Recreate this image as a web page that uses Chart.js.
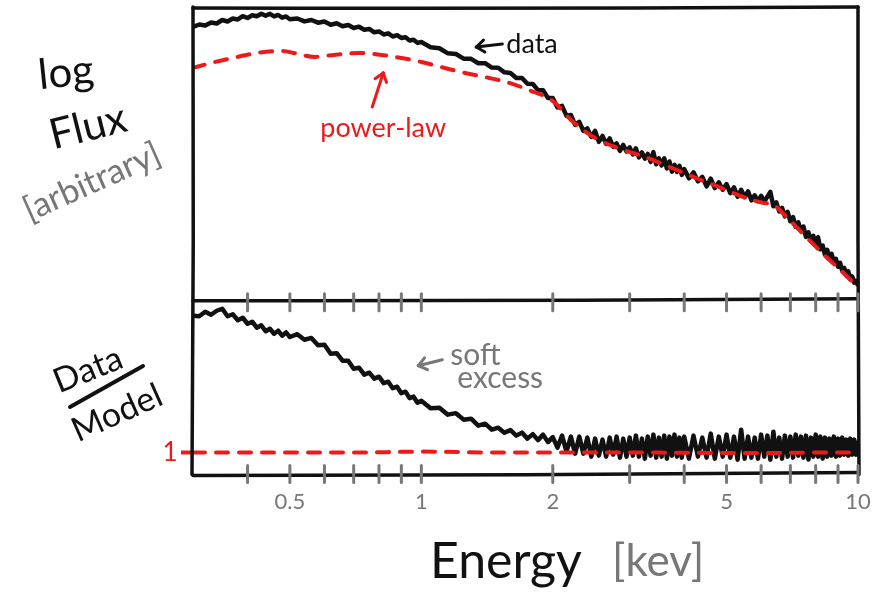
<!DOCTYPE html>
<html>
<head>
<meta charset="utf-8">
<title>Soft excess</title>
<script src="https://cdn.jsdelivr.net/npm/chart.js@4.4.1/dist/chart.umd.min.js"></script>
<style>
  html, body { margin: 0; padding: 0; background: #fff; }
  #wrap { width: 872px; height: 605px; }
</style>
</head>
<body>
<div id="wrap"><canvas id="spectrum"></canvas></div>
<script>
// energy grid of the spectrum, keV
const energy = [
  0.30, 0.31, 0.32, 0.33, 0.34, 0.35, 0.36, 0.37, 0.38, 0.39, 0.40, 0.41, 0.42, 0.43, 0.44, 0.45, 0.46, 0.47, 0.48, 0.49, 0.50,
  0.52, 0.54, 0.56, 0.58, 0.60, 0.62, 0.64, 0.66, 0.68, 0.70, 0.72, 0.74, 0.76, 0.78, 0.80, 0.82, 0.84, 0.86, 0.88, 0.90,
  0.92, 0.94, 0.96, 0.98, 1.00,
  1.05, 1.10, 1.15, 1.20, 1.25, 1.30, 1.35, 1.40, 1.45, 1.50, 1.55, 1.60, 1.65, 1.70, 1.75, 1.80, 1.85, 1.90, 1.95, 2.00,
  2.05, 2.10, 2.15, 2.20, 2.25, 2.30, 2.35, 2.40, 2.45, 2.50, 2.55, 2.60, 2.65, 2.70, 2.75, 2.80, 2.85, 2.90, 2.95, 3.00,
  3.05, 3.10, 3.15, 3.20, 3.25, 3.30, 3.35, 3.40, 3.45, 3.50, 3.55, 3.60, 3.65, 3.70, 3.75, 3.80, 3.85, 3.90, 3.95, 4.00,
  4.1, 4.2, 4.3, 4.4, 4.5, 4.6, 4.7, 4.8, 4.9, 5.0, 5.1, 5.2, 5.3, 5.4, 5.5, 5.6, 5.7, 5.8, 5.9, 6.0,
  6.1, 6.2, 6.3, 6.4, 6.5, 6.6, 6.7, 6.8, 6.9, 7.0, 7.1, 7.2, 7.3, 7.4, 7.5, 7.6, 7.7, 7.8, 7.9, 8.0,
  8.1, 8.2, 8.3, 8.4, 8.5, 8.6, 8.7, 8.8, 8.9, 9.0, 9.1, 9.2, 9.3, 9.4, 9.5, 9.6, 9.7, 9.8, 9.9, 10.0
];

// observed log flux (arbitrary units)
const fluxData = [
  27.30, 27.55, 27.45, 27.75, 27.65, 28.00, 27.85, 28.15, 28.05, 28.38, 28.20, 28.47, 28.37, 28.63, 28.43, 28.62, 28.36, 28.50, 28.23, 28.35, 28.07,
  28.15, 27.86, 28.00, 27.73, 27.85, 27.53, 27.67, 27.38, 27.50, 27.20, 27.33, 27.03, 27.10, 26.77, 26.85, 26.55, 26.66, 26.35, 26.48, 26.20,
  26.27, 25.95, 26.03, 25.71, 25.80,
  25.28, 25.17, 24.66, 24.60, 24.13, 24.11, 23.67, 23.68, 23.24, 23.22, 22.76, 22.70, 22.20, 22.20, 21.61, 21.59, 20.98, 20.97, 20.20, 20.20,
  19.25, 19.40, 18.40, 18.50, 17.50, 17.80, 16.90, 17.15, 16.30, 16.90, 15.80, 16.40, 15.60, 16.15, 15.30, 15.65, 14.90, 15.50, 14.85, 15.25,
  14.55, 15.15, 14.25, 14.75, 14.12, 14.60, 13.80, 14.77, 13.55, 14.15, 13.45, 14.15, 13.15, 13.84, 12.82, 13.50, 12.80, 13.40, 12.50, 13.08,
  12.15, 12.75, 11.85, 12.30, 11.35, 12.12, 11.18, 11.75, 11.01, 11.58, 10.67, 11.25, 10.32, 11.00, 10.28, 10.85, 9.95, 10.45, 9.87, 10.40,
  9.82, 10.30, 10.80, 9.35, 9.75, 8.85, 9.20, 8.35, 8.80, 7.85, 8.27, 7.30, 7.75, 6.90, 7.33, 6.28, 6.75, 5.92, 6.40, 5.48,
  6.26, 5.05, 5.43, 4.51, 5.00, 4.20, 4.60, 3.72, 4.10, 3.30, 3.70, 2.90, 3.20, 2.47, 2.85, 2.05, 2.33, 1.71, 1.90, 1.40
];

// data / model ratio on the same grid
const ratioData = [
  2.37, 2.365, 2.41, 2.38, 2.42, 2.44, 2.365, 2.385, 2.325, 2.35, 2.29, 2.31, 2.25, 2.275, 2.215, 2.24, 2.19, 2.22, 2.17, 2.203, 2.157,
  2.185, 2.13, 2.148, 2.075, 2.08, 1.99, 1.995, 1.92, 1.92, 1.84, 1.85, 1.78, 1.80, 1.74, 1.76, 1.695, 1.71, 1.645, 1.66, 1.595,
  1.61, 1.545, 1.56, 1.50, 1.52,
  1.445, 1.45, 1.38, 1.395, 1.33, 1.34, 1.27, 1.29, 1.23, 1.25, 1.20, 1.225, 1.17, 1.20, 1.14, 1.185, 1.125, 1.18, 1.105, 1.155,
  1.05, 1.17, 1.01, 1.16, 0.99, 1.16, 0.99, 1.15, 0.96, 1.14, 0.97, 1.13, 0.96, 1.15, 0.98, 1.16, 0.95, 1.14, 0.96, 1.15,
  0.97, 1.17, 0.96, 1.14, 0.94, 1.16, 0.97, 1.18, 0.95, 1.15, 0.96, 1.17, 0.94, 1.16, 0.97, 1.18, 0.96, 1.15, 0.95, 1.16,
  0.94, 1.17, 0.96, 1.15, 0.95, 1.19, 0.94, 1.16, 0.96, 1.18, 0.95, 1.16, 0.93, 1.23, 0.94, 1.16, 0.95, 1.15, 0.94, 1.18,
  0.96, 1.17, 0.93, 1.21, 0.96, 1.15, 0.94, 1.17, 0.96, 1.16, 0.95, 1.18, 0.97, 1.16, 0.95, 1.17, 0.93, 1.15, 0.96, 1.18,
  0.96, 1.16, 0.94, 1.15, 0.96, 1.14, 0.97, 1.16, 0.96, 1.14, 0.97, 1.15, 0.98, 1.13, 0.97, 1.14, 0.98, 1.13, 0.98, 1.12
];

// power-law model
const modelEnergy = [0.3, 0.33, 0.37, 0.42, 0.48, 0.51, 0.57, 0.63, 0.72, 0.81, 0.9, 1.0, 1.13, 1.26, 1.43, 1.59, 1.76,
  2.0, 2.2, 2.5, 2.9, 3.25, 3.7, 4.25, 4.8, 5.45, 6.05, 6.4, 6.85, 7.6, 8.45, 9.25, 10];
const fluxModel = [23.2, 23.7, 24.2, 24.7, 24.9, 24.7, 24.3, 24.5, 24.7, 24.5, 24.2, 23.8, 23.2, 22.7, 22.2, 21.7, 21.0,
  19.9, 18.0, 16.2, 15.0, 14.3, 13.3, 12.2, 11.3, 10.3, 9.7, 9.5, 8.3, 6.3, 4.3, 2.7, 1.2];
const ratioModelEnergy = [0.3, 0.45, 0.7, 1.0, 1.5, 2.2, 3.5, 5.5, 8, 10];
const ratioModel = [1.0, 1.0, 1.0, 1.01, 1.0, 1.0, 1.0, 0.995, 1.0, 1.0];

// axis marks
const minorTicks = [0.4, 0.5, 0.6, 0.7, 0.8, 0.9, 1, 2, 3, 4, 5, 6, 7, 8, 9, 10];
const labelTicks = [0.5, 1, 2, 5, 10];
const ratioTicks = [1];

const INK = '#111';
const GREY = '#777';
const RED = '#ee1a1a';
const HAND = 'Lato, "DejaVu Sans", sans-serif';

Chart.defaults.font.family = HAND;

function pairs(xs, ys) {
  return xs.map((x, i) => ({ x: x, y: ys[i] }));
}

// slightly bowed stroke, for the hand-drawn look
function stroke(ctx, x1, y1, x2, y2, bend) {
  const dx = x2 - x1, dy = y2 - y1, len = Math.hypot(dx, dy) || 1;
  ctx.beginPath();
  ctx.moveTo(x1, y1);
  ctx.quadraticCurveTo((x1 + x2) / 2 - dy / len * bend, (y1 + y2) / 2 + dx / len * bend, x2, y2);
  ctx.stroke();
}

function arrowTo(ctx, x1, y1, x2, y2) {
  stroke(ctx, x1, y1, x2, y2, 0);
  const ang = Math.atan2(y2 - y1, x2 - x1);
  [-1, 1].forEach(s => {
    const a = ang + Math.PI + s * 0.65;
    stroke(ctx, x2, y2, x2 + 10 * Math.cos(a), y2 + 10 * Math.sin(a), 0);
  });
}

function text(ctx, str, x, y, size, color, angle, align, baseline) {
  ctx.save();
  ctx.translate(x, y);
  ctx.rotate((angle || 0) * Math.PI / 180);
  ctx.font = size + 'px ' + HAND;
  ctx.fillStyle = color;
  ctx.textAlign = align || 'center';
  ctx.textBaseline = baseline || 'middle';
  ctx.fillText(str, 0, 0);
  ctx.restore();
}

const sketch = {
  id: 'sketch',
  afterDatasetsDraw(chart) {
    const { ctx, chartArea: a, scales } = chart;
    const mid = scales.yRatio.top;
    ctx.save();
    ctx.lineCap = 'round';
    ctx.lineJoin = 'round';
    ctx.strokeStyle = INK;
    ctx.lineWidth = 3.5;
    stroke(ctx, a.left, a.top + 1, a.right, a.top, 1.5);
    stroke(ctx, a.left, a.top, a.left - 1, a.bottom, -1.5);
    stroke(ctx, a.right, a.top, a.right + 1, a.bottom, 1);
    stroke(ctx, a.left, mid + 1, a.right, mid - 1, 1.5);
    stroke(ctx, a.left, a.bottom + 1, a.right, a.bottom - 2, 1.5);

    ctx.strokeStyle = GREY;
    ctx.lineWidth = 3;
    minorTicks.forEach(e => {
      const x = scales.x.getPixelForValue(e);
      stroke(ctx, x, mid - 6, x, mid + 11, 0);
      stroke(ctx, x, a.bottom - 9, x, a.bottom + 8, 0);
    });
    ctx.restore();
  },
  afterDraw(chart) {
    const { ctx, chartArea: a, scales } = chart;
    const px = e => scales.x.getPixelForValue(e);
    const pf = v => scales.yFlux.getPixelForValue(v);
    const pr = v => scales.yRatio.getPixelForValue(v);
    ctx.save();
    ctx.lineCap = 'round';
    ctx.lineJoin = 'round';

    // ratio axis label
    ratioTicks.forEach(v => text(ctx, String(v), a.left - 23, pr(v), 26, RED, 0, 'center'));

    // axis titles
    text(ctx, 'log', 66, 73, 42, INK, -6);
    text(ctx, 'Flux', 88, 127, 42, INK, -14);
    text(ctx, '[arbitrary]', 92, 182, 34, GREY, -24);
    text(ctx, 'Data', 88, 370, 34, INK, -22);
    ctx.strokeStyle = INK;
    ctx.lineWidth = 4;
    stroke(ctx, 70, 407, 143, 366, 0);
    text(ctx, 'Model', 117, 413, 34, INK, -24);
    text(ctx, 'Energy', 430, 578, 50, INK, 0, 'left', 'alphabetic');
    text(ctx, '[kev]', 612, 576, 44, GREY, 0, 'left', 'alphabetic');

    // annotations
    ctx.lineWidth = 3;
    text(ctx, 'data', px(1.565), pf(24.7), 27, INK, 0, 'left', 'alphabetic');
    ctx.strokeStyle = INK;
    arrowTo(ctx, px(1.533), pf(25.6), px(1.336), pf(25.3));

    text(ctx, 'power-law', px(0.818), pf(16.3), 27, RED, 0, 'center', 'alphabetic');
    ctx.strokeStyle = RED;
    arrowTo(ctx, px(0.772), pf(19.3), px(0.818), pf(22.7));

    text(ctx, 'soft', px(1.165), pr(1.88), 30, GREY, 0, 'left', 'alphabetic');
    text(ctx, 'excess', px(1.209), pr(1.65), 30, GREY, 0, 'left', 'alphabetic');
    ctx.strokeStyle = GREY;
    arrowTo(ctx, px(1.117), pr(1.93), px(0.984), pr(1.87));
    ctx.restore();
  }
};

new Chart(document.getElementById('spectrum'), {
  type: 'line',
  data: {
    datasets: [
      {
        label: 'power-law',
        data: pairs(modelEnergy, fluxModel),
        yAxisID: 'yFlux',
        borderColor: RED,
        borderWidth: 4,
        borderDash: [12, 11],
        borderCapStyle: 'round',
        cubicInterpolationMode: 'monotone',
        pointRadius: 0,
        order: 0
      },
      {
        label: 'model ratio',
        data: pairs(ratioModelEnergy, ratioModel),
        yAxisID: 'yRatio',
        borderColor: RED,
        borderWidth: 4,
        borderDash: [12, 11],
        borderCapStyle: 'round',
        cubicInterpolationMode: 'monotone',
        pointRadius: 0,
        order: 0
      },
      {
        label: 'data',
        data: pairs(energy, fluxData),
        yAxisID: 'yFlux',
        borderColor: INK,
        borderWidth: 4.5,
        borderJoinStyle: 'round',
        tension: 0,
        pointRadius: 0,
        order: 1
      },
      {
        label: 'data / model',
        data: pairs(energy, ratioData),
        yAxisID: 'yRatio',
        borderColor: INK,
        borderWidth: 4.5,
        borderJoinStyle: 'round',
        tension: 0,
        pointRadius: 0,
        order: 1
      }
    ]
  },
  options: {
    responsive: true,
    maintainAspectRatio: false,
    animation: false,
    layout: { padding: { left: 163, right: 14, top: 7, bottom: 90 } },
    plugins: {
      legend: { display: false },
      tooltip: { enabled: false }
    },
    scales: {
      x: {
        type: 'logarithmic',
        min: 0.3,
        max: 10,
        // tick marks are sketched by hand; keep only the gap they need
        grid: { display: false, drawTicks: true, tickLength: 14 },
        border: { display: false },
        afterBuildTicks: s => { s.ticks = labelTicks.map(v => ({ value: v })); },
        ticks: {
          autoSkip: false,
          maxRotation: 0,
          padding: 0,
          color: GREY,
          font: { size: 22 },
          callback: v => String(v)
        }
      },
      yFlux: {
        type: 'linear',
        position: 'left',
        stack: 'panels',
        stackWeight: 293,
        weight: 2,
        min: 0,
        max: 29.3,
        grid: { display: false },
        border: { display: false },
        ticks: { display: false },
        afterFit: s => { s.width = 30; }
      },
      yRatio: {
        type: 'linear',
        position: 'left',
        stack: 'panels',
        stackWeight: 175,
        weight: 1,
        min: 0.78,
        max: 2.53,
        afterBuildTicks: s => { s.ticks = ratioTicks.map(v => ({ value: v })); },
        grid: { drawOnChartArea: false, tickLength: 12, tickColor: RED, tickWidth: 4 },
        border: { display: false },
        ticks: { display: false },
        afterFit: s => { s.width = 30; }
      }
    }
  },
  plugins: [sketch]
});
</script>
</body>
</html>
